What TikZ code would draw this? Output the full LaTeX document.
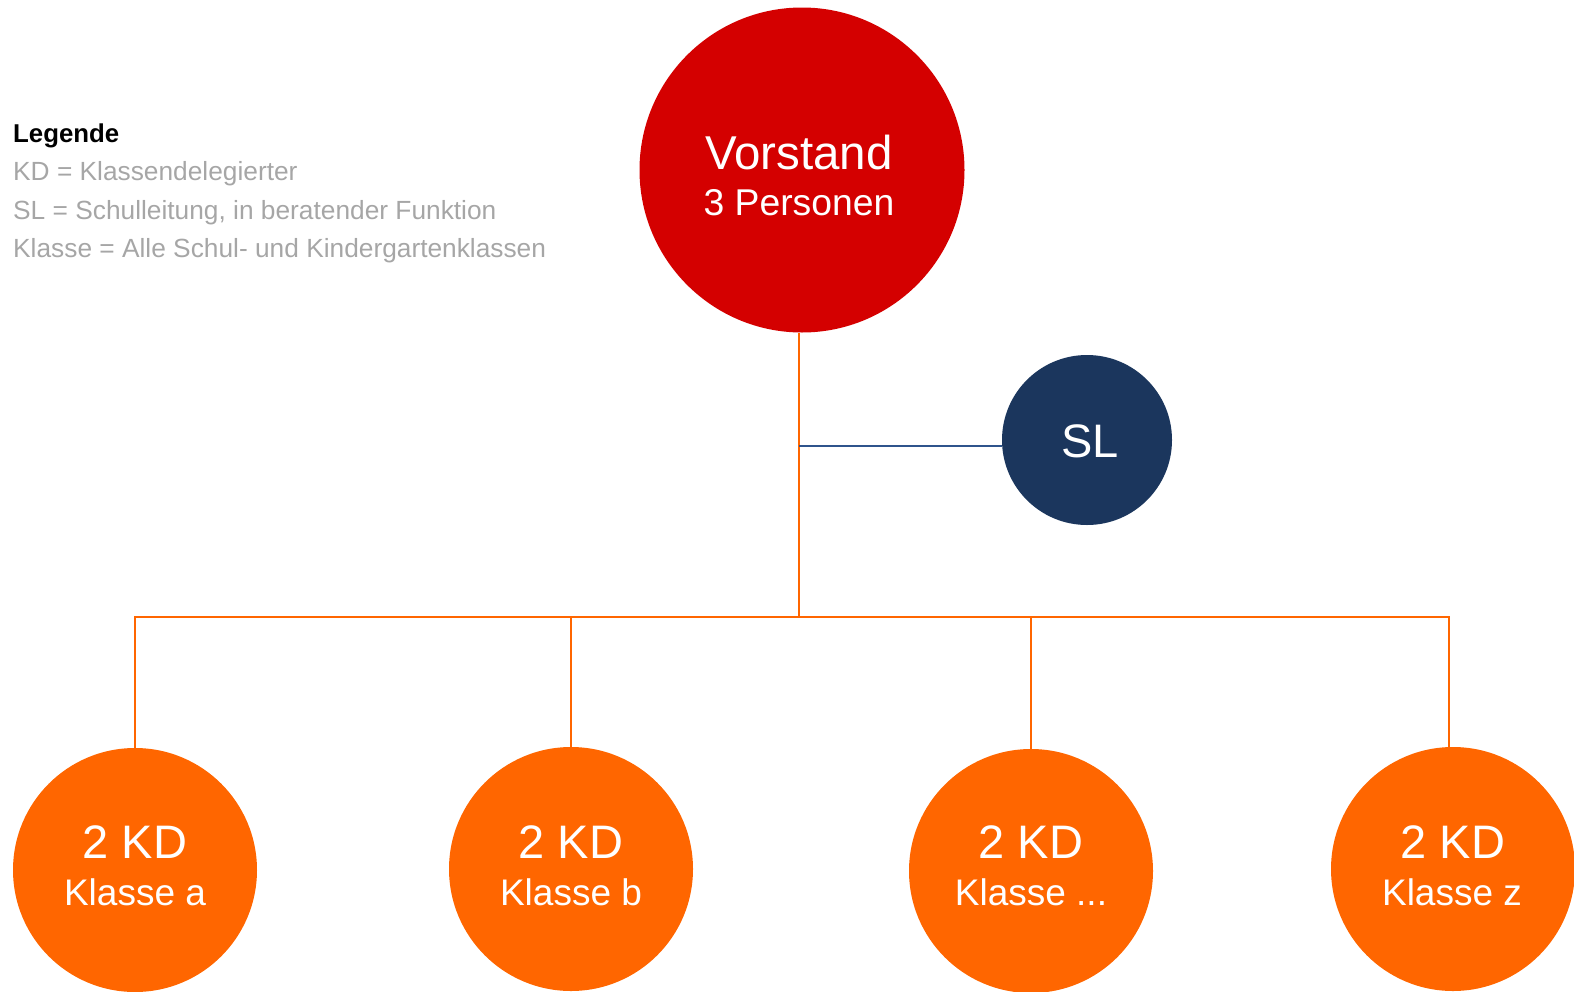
\documentclass[tikz,border=0pt]{standalone}
\usepackage{fontspec}
\setmainfont{Liberation Sans}
\definecolor{vred}{RGB}{212,0,0}
\definecolor{korange}{RGB}{255,102,0}
\definecolor{slnavy}{RGB}{27,54,93}
\definecolor{slline}{RGB}{47,84,140}
\definecolor{leggray}{RGB}{166,166,166}
\tikzset{
  bubble/.style={circle,inner sep=0pt,draw=none},
  kdbubble/.style={bubble,fill=korange,minimum size=244pt},
  oline/.style={draw=korange,line width=2.5pt},
  bline/.style={draw=slline,line width=2.5pt},
  bigtxt/.style={anchor=base,text=white,inner sep=0pt,font=\fontsize{47}{54}\selectfont},
  smalltxt/.style={anchor=base,text=white,inner sep=0pt,font=\fontsize{37}{42}\selectfont},
  legtxt/.style={anchor=base west,inner sep=0pt,text=leggray,font=\fontsize{26.3}{30}\selectfont}
}
\begin{document}
\begin{tikzpicture}[x=1pt,y=-1pt]
\useasboundingbox (0,0) rectangle (1574,991);
% legend
\node[legtxt,text=black,font=\fontsize{25.8}{30}\bfseries] (leg0) at (13,142) {Legende};
\node[legtxt] (leg1) at (13,180.5) {KD = Klassendelegierter};
\node[legtxt] (leg2) at (13,219) {SL = Schulleitung, in beratender Funktion};
\node[legtxt] (leg3) at (13,257.5) {Klasse = Alle Schul- und Kindergartenklassen};
% circles
\node[bubble,fill=vred,minimum size=325pt] (vorstand) at (802,170) {};
\node[bigtxt,font=\fontsize{47.5}{54}\selectfont] (vt1) at (799,169) {Vorstand};
\node[smalltxt,font=\fontsize{37.3}{42}\selectfont] (vt2) at (799,215) {3 Personen};
\node[bubble,fill=slnavy,minimum size=170pt] (sl) at (1087,440) {};
\node[bigtxt,font=\fontsize{47}{54}\selectfont] (slt) at (1090,457) {SL};
\node[kdbubble] (ka) at (135,870) {};
\node[kdbubble] (kb) at (571,869) {};
\node[kdbubble] (kx) at (1031,871) {};
\node[kdbubble] (kz) at (1453,869) {};
\node[bigtxt] (kat1) at (135,858) {2 KD};
\node[smalltxt] (kat2) at (135,905) {Klasse a};
\node[bigtxt] (kbt1) at (571,858) {2 KD};
\node[smalltxt] (kbt2) at (571,905) {Klasse b};
\node[bigtxt] (kxt1) at (1031,858) {2 KD};
\node[smalltxt] (kxt2) at (1031,905) {Klasse ...};
\node[bigtxt] (kzt1) at (1453,858) {2 KD};
\node[smalltxt] (kzt2) at (1452,905) {Klasse z};
% connectors
\coordinate (vb) at (799,333);
\coordinate (j) at (799,617);
\coordinate (sj) at (799,446);
\coordinate (kztop) at (1449,748);
\draw[oline] (vb) -- (j);
\draw[oline] (ka.north) -- (ka.north |- j) -- (kztop |- j) -- (kztop);
\draw[oline] (kb.north) -- (kb.north |- j);
\draw[oline] (kx.north) -- (kx.north |- j);
\draw[bline] (sj) -- (sl.west |- sj);
\end{tikzpicture}
\end{document}
